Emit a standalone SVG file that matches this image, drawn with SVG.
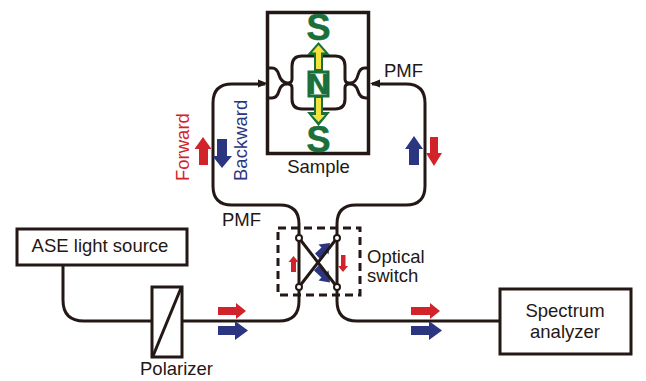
<svg xmlns="http://www.w3.org/2000/svg" width="646" height="381" viewBox="0 0 646 381">
<style>
.l{fill:none;stroke:#231815;stroke-width:3}
.t{font-family:"Liberation Sans",Arial,sans-serif;font-size:18.500px;fill:#231815}
.c{fill:#fff;stroke:#231815;stroke-width:2}
.r{fill:#d2232a}.b{fill:#2b3580}.g{fill:#1b6f3a}.y{fill:#f4e33a}
.s{font-family:"Liberation Sans",Arial,sans-serif;font-size:36px;font-weight:bold;fill:#1b6f3a;stroke:#1b6f3a;stroke-width:.6;text-anchor:middle}
</style>
<rect width="646" height="381" fill="#fff"/>
<g id="switch-arrows">
<path class="b" d="M315 253.500L319.500 258.500L326.500 252L328.500 254.500L330 243L318.500 244.500L321.500 247.500Z"/>
<path class="b" d="M314 270.500L318.500 265.500L326.500 272.500L328.500 270.500L330 282.500L318.500 280.500L321.500 277.500Z"/>
</g>
<g id="connectors">
<path class="l" d="M63 265V300Q63 321 84 321H152M182 321H279Q299 321 299 301V224Q299 205 280 205H232Q213 205 213 186V103Q213 84 232 84H265"/>
<path class="l" d="M337 224V301Q337 321 357 321H500"/>
<path class="l" d="M337 224Q337 205 356 205H406Q425 205 425 186V103Q425 84 406 84H372"/>
<path class="l" d="M299 238L337 287M337 238L299 287"/>
<path d="M268 83.500l-10 -4v8z M370 83.500l10 -4v8z" fill="#231815"/>
</g>
<g id="sample">
<rect x="267.500" y="12.500" width="101" height="141" fill="none" stroke="#231815" stroke-width="3.500"/>
<path class="l" d="M268 68H272Q277 68 279 75T287 83H288Q292 83 292 79V66Q292 56 302 56H335Q345 56 345 66V79Q345 83 349 83H350Q356 83 358 75T366 68H369"/>
<path class="l" d="M268 98H272Q277 98 279 91T287 84H288Q292 84 292 88V99Q292 109 302 109H335Q345 109 345 99V88Q345 84 349 84H350Q356 84 358 91T366 98H369"/>
<rect x="309" y="72" width="19" height="24" fill="#fff" stroke="#1b6f3a" stroke-width="3"/>
<text class="s" x="318.500" y="40">S</text>
<text class="s" x="318.500" y="152">S</text>
<text class="s" x="318.500" y="94" style="font-size:29px">N</text>
<path class="g" d="M318.500 42L330 55H323V71H314V55H307Z"/>
<path class="g" d="M318.500 126L330 112H323V97H314V112H307Z"/>
<path class="y" d="M318.500 45L325 52.500H321V69H316V52.500H312Z"/>
<path class="y" d="M318.500 122L325 115H321V98H316V115H312Z"/>
</g>
<g id="switch">
<rect x="278" y="228" width="82" height="67" fill="none" stroke="#231815" stroke-width="3" stroke-dasharray="8 5"/>
<circle class="c" cx="299" cy="238" r="3"/>
<circle class="c" cx="337" cy="238" r="3"/>
<circle class="c" cx="299" cy="287" r="3"/>
<circle class="c" cx="337" cy="287" r="3"/>
<path class="r" d="M293.500 256L298.500 262H296V272H291V262H288.500Z"/>
<path class="r" d="M343 272L348 266H345.500V255H341V266H338Z"/>
<text class="t" x="367" y="263">Optical</text>
<text class="t" x="367" y="282">switch</text>
</g>
<g id="ase"><rect x="17" y="229" width="170" height="36" fill="none" stroke="#231815" stroke-width="3"/><text class="t" x="100" y="252" text-anchor="middle">ASE light source</text></g>
<g id="polarizer"><rect x="152" y="287" width="30" height="70" fill="#fff" stroke="#231815" stroke-width="3"/><path class="l" d="M153 356L181 288"/><text class="t" x="176.500" y="375" text-anchor="middle">Polarizer</text></g>
<g id="analyzer"><rect x="500" y="289" width="131" height="65" fill="none" stroke="#231815" stroke-width="3"/><text class="t" x="565" y="317" text-anchor="middle">Spectrum</text><text class="t" x="565" y="338" text-anchor="middle">analyzer</text></g>
<g id="labels">
<text class="t" x="318.500" y="173" text-anchor="middle">Sample</text>
<text class="t" x="384" y="77">PMF</text>
<text class="t" x="222" y="226">PMF</text>
<text class="t" style="fill:#d2232a" transform="translate(189 181) rotate(-90)">Forward</text>
<text class="t" style="fill:#2b3580" transform="translate(247 181) rotate(-90)">Backward</text>
<path class="r" d="M203 137L211.500 149H208V165H199V149H194.500Z"/>
<path class="b" d="M222 168L232 156H227V139H217V156H212.500Z"/>
<path class="b" d="M414 136L423 149H419V165H409V149H405Z"/>
<path class="r" d="M434 166L442 153H438V137H430V153H426Z"/>
<path class="r" d="M246 311L236 303V307H218V315H236V319Z"/>
<path class="b" d="M248 330.500L235 321V326H218V335H235V340Z"/>
<path class="r" d="M440 311L430 303V307H411V315H430V319Z"/>
<path class="b" d="M442 330.500L429 321V326H411V335H429V340Z"/>
</g>
</svg>
